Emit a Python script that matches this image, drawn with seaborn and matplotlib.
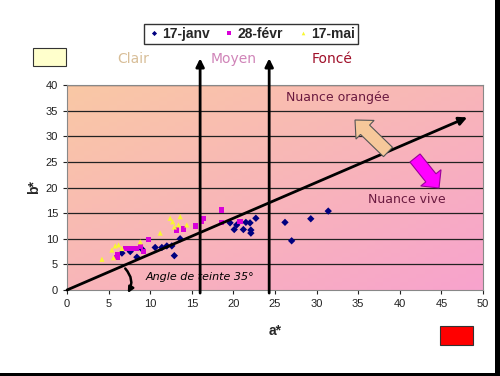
import numpy as np
import pandas as pd
import matplotlib
matplotlib.use("Agg")
import matplotlib.pyplot as plt
import matplotlib.patches as mpatches
from matplotlib.transforms import Affine2D
import seaborn as sns

# ---- data ----
series_names = ["17-janv", "28-févr", "17-mai"]
janv_a = [6.6, 7.6, 8.4, 9.0, 10.6, 11.4, 12.0, 12.6, 12.9, 13.6, 19.6, 20.1, 20.4, 21.2, 21.5, 22.0, 22.1, 22.1, 22.7, 26.2, 27.0, 29.3, 31.4]
janv_b = [7.2, 7.5, 6.4, 8.0, 8.3, 8.3, 8.6, 8.6, 6.7, 10.0, 13.1, 11.8, 12.7, 11.8, 13.2, 13.1, 11.7, 11.1, 14.0, 13.2, 9.6, 13.9, 15.4]
fevr_a = [6.0, 6.1, 7.1, 7.7, 8.4, 8.8, 9.2, 9.8, 13.2, 14.0, 15.4, 16.2, 16.4, 18.6, 18.6, 20.8]
fevr_b = [6.4, 6.9, 8.1, 8.1, 8.1, 8.5, 7.5, 9.9, 11.7, 11.9, 12.5, 13.3, 14.0, 15.6, 13.2, 13.3]
mai_a = [4.2, 5.4, 5.6, 5.8, 6.2, 6.6, 8.8, 11.2, 12.4, 12.7, 12.9, 13.4, 13.6, 14.4]
mai_b = [6.0, 7.8, 6.3, 8.6, 8.8, 8.1, 9.4, 11.1, 14.0, 13.3, 12.3, 12.7, 14.3, 12.7]
x_ticks = [0, 5, 10, 15, 20, 25, 30, 35, 40, 45, 50]
y_ticks = [0, 5, 10, 15, 20, 25, 30, 35, 40]
zone_labels = ["Clair", "Moyen", "Foncé"]
zone_bounds = [16.0, 24.3]
hue_angle = 35

df = pd.DataFrame({
    "a": janv_a + fevr_a + mai_a,
    "b": janv_b + fevr_b + mai_b,
    "date": [series_names[0]] * len(janv_a) + [series_names[1]] * len(fevr_a) + [series_names[2]] * len(mai_a),
})

sns.set_style("white")
plt.rcParams["font.family"] = ["Liberation Sans", "DejaVu Sans"]

W, H = 500, 376
fig = plt.figure(figsize=(W / 100, H / 100), dpi=100)
ax = fig.add_axes([67 / W, 1 - 290 / H, (483 - 67) / W, (290 - 85) / H])

# gradient background
ny, nx = 50, 50
yy, xx = np.mgrid[0:1:ny * 1j, 0:1:nx * 1j]
t = (xx + yy) / 2.0
c0 = np.array([250, 200, 165]) / 255.0
c1 = np.array([247, 163, 205]) / 255.0
img = c0[None, None, :] * (1 - t[..., None]) + c1[None, None, :] * t[..., None]
ax.imshow(img, extent=[0, 1, 0, 1], transform=ax.transAxes, aspect="auto", zorder=0, origin="upper")

palette = {series_names[0]: "#000080", series_names[1]: "#D800D8", series_names[2]: "#F8F830"}
markers = {series_names[0]: "D", series_names[1]: "s", series_names[2]: "^"}
sns.scatterplot(data=df, x="a", y="b", hue="date", style="date", palette=palette, markers=markers,
                s=14, linewidth=0, ax=ax, zorder=3, legend=True)

ax.set_xlim(0, 50)
ax.set_ylim(0, 40)
ax.set_xticks(x_ticks)
ax.set_yticks(y_ticks)
ax.tick_params(labelsize=8, colors="#222222", length=3, direction="out", width=0.8, bottom=True, left=True)
for y in y_ticks[1:]:
    ax.axhline(y, color="#222222", lw=0.9, zorder=1)
for s in ax.spines.values():
    s.set_color("#888888")
    s.set_linewidth(0.8)
ax.set_xlabel("a*", fontsize=10, fontweight="bold", labelpad=11)
ax.set_ylabel("b*", fontsize=10, fontweight="bold", labelpad=3)

# hue line
x_end = 48.1
ax.annotate("", xy=(x_end, x_end * np.tan(np.radians(hue_angle))), xytext=(0, 0),
            arrowprops=dict(arrowstyle="-|>", lw=2, color="black", mutation_scale=12, shrinkA=0, shrinkB=0),
            zorder=4, annotation_clip=False)

# zone boundaries
for xb in zone_bounds:
    ax.annotate("", xy=(xb, 1.13), xytext=(xb, -0.015), xycoords=("data", "axes fraction"),
                textcoords=("data", "axes fraction"),
                arrowprops=dict(arrowstyle="-|>", lw=2, color="black", mutation_scale=12, shrinkA=0, shrinkB=0),
                zorder=4, annotation_clip=False)

# angle arc
ax.annotate("", xy=(7.3, -0.6), xytext=(7.0, 4.2),
            arrowprops=dict(arrowstyle="-|>", lw=1.8, color="black", mutation_scale=8,
                            connectionstyle="arc3,rad=-0.35", shrinkA=0, shrinkB=0),
            zorder=4, annotation_clip=False)
ax.text(9.4, 2.6, f"Angle de teinte {hue_angle}°", fontsize=8, style="italic", color="black",
        family=["DejaVu Sans"], va="center", zorder=5)

ax.text(26.3, 37.6, "Nuance orangée", fontsize=9, color="#6A1A40", family=["DejaVu Sans"], va="center", zorder=5)
ax.text(36.2, 17.6, "Nuance vive", fontsize=9, color="#6A1A40", family=["DejaVu Sans"], va="center", zorder=5)

# block arrows (in figure pixel space, y measured from top)
pix = Affine2D().scale(1, -1).translate(0, H)
fig.patches.append(mpatches.FancyArrow(388, 152, -33, -32, width=13, head_width=26, head_length=14,
                                        length_includes_head=True, transform=pix, facecolor="#F6C89A",
                                        edgecolor="#555555", lw=0.8, figure=fig, zorder=6))
fig.patches.append(mpatches.FancyArrow(415, 158, 24, 30, width=13, head_width=26, head_length=13,
                                        length_includes_head=True, transform=pix, facecolor="#FF00FF",
                                        edgecolor="#9A009A", lw=0.8, figure=fig, zorder=6))

# zone labels
zone_x = [133, 234, 332]
zone_c = ["#D8BE98", "#D084B8", "#A0102A"]
for lab, xp, c in zip(zone_labels, zone_x, zone_c):
    fig.text(xp / W, 1 - 59 / H, lab, fontsize=10, color=c, ha="center", va="center", family=["DejaVu Sans"])

# colour swatches
fig.patches.append(mpatches.Rectangle((33, 48), 33, 18, transform=pix, facecolor="#FFFFCC",
                                      edgecolor="#333333", lw=0.8, figure=fig))
fig.patches.append(mpatches.Rectangle((440, 326), 33, 19, transform=pix, facecolor="#FF0000",
                                      edgecolor="#333333", lw=0.8, figure=fig))

# slide border
fig.patches.append(mpatches.Rectangle((495, 0), 5, H, transform=pix, facecolor="black", lw=0, figure=fig))
fig.patches.append(mpatches.Rectangle((0, 373), W, 3, transform=pix, facecolor="black", lw=0, figure=fig))

# legend
handles, labels = ax.get_legend_handles_labels()
ax.get_legend().remove()
leg = fig.legend(handles, labels, loc="center", bbox_to_anchor=(251 / W, 1 - 34 / H), ncol=3,
                 prop={"weight": "bold", "size": 10}, frameon=True, fancybox=False, edgecolor="black",
                 handletextpad=0.1, columnspacing=0.9, borderpad=0.25, handlelength=1.0, markerscale=0.7)
leg.get_frame().set_linewidth(1.0)

fig.savefig("out.png", dpi=100)
